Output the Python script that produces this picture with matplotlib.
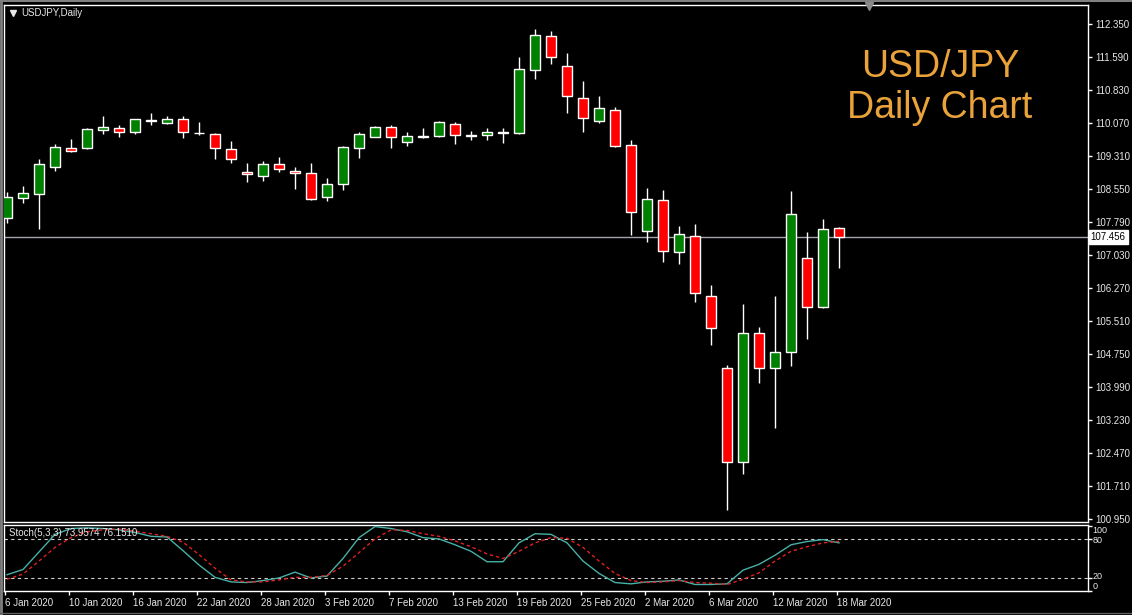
import numpy as np
import matplotlib
matplotlib.use("Agg")
import matplotlib.pyplot as plt
from matplotlib.lines import Line2D
import matplotlib.transforms as mtransforms

# ---- data ----
opens = [107.89, 108.35, 108.44, 109.07, 109.50, 109.51, 109.91, 109.96, 109.88, 110.14,
         110.07, 110.17, 109.85, 109.82, 109.47, 108.95, 108.87, 109.14, 108.97, 108.92,
         108.38, 108.67, 109.50, 109.76, 109.98, 109.65, 109.76, 109.77, 110.06, 109.80,
         109.80, 109.86, 109.86, 111.31, 112.08, 111.39, 110.65, 110.13, 110.37, 109.57,
         107.60, 108.30, 107.10, 107.48, 106.09, 104.43, 102.27, 105.24, 104.43, 104.80,
         106.96, 105.85, 107.66]
highs = [108.50, 108.64, 109.25, 109.59, 109.70, 109.97, 110.23, 110.03, 110.18, 110.30,
         110.23, 110.23, 110.11, 109.86, 109.67, 109.15, 109.21, 109.29, 109.07, 109.15,
         108.81, 109.56, 109.87, 110.01, 110.03, 109.87, 109.97, 110.13, 110.11, 109.90,
         109.96, 109.96, 111.61, 112.24, 112.20, 111.70, 111.05, 110.70, 110.44, 109.69,
         108.58, 108.54, 107.71, 107.75, 106.35, 104.51, 105.91, 105.39, 106.10, 108.52,
         107.58, 107.88, 107.69]
lows = [107.77, 108.23, 107.63, 108.98, 109.42, 109.48, 109.83, 109.76, 109.83, 110.03,
        110.06, 109.74, 109.80, 109.24, 109.15, 108.71, 108.74, 108.96, 108.55, 108.30,
        108.28, 108.54, 109.27, 109.75, 109.51, 109.55, 109.73, 109.75, 109.60, 109.69,
        109.69, 109.63, 109.83, 111.09, 111.44, 110.32, 109.88, 110.09, 109.53, 107.50,
        107.35, 106.89, 106.83, 105.96, 104.97, 101.17, 102.00, 104.09, 103.06, 104.48,
        105.11, 105.81, 106.73]
closes = [108.38, 108.46, 109.13, 109.53, 109.44, 109.94, 109.99, 109.88, 110.17, 110.13,
          110.17, 109.87, 109.84, 109.50, 109.24, 108.90, 109.13, 109.01, 108.92, 108.32,
          108.67, 109.53, 109.83, 109.98, 109.75, 109.77, 109.78, 110.10, 109.81, 109.79,
          109.87, 109.86, 111.32, 112.11, 111.59, 110.71, 110.19, 110.42, 109.56, 108.02,
          108.32, 107.13, 107.52, 106.16, 105.35, 102.27, 105.24, 104.43, 104.80, 107.98,
          105.85, 107.65, 107.456]

stoch_k = [25, 33, 60, 87, 96, 97, 96, 94, 90, 84, 83, 62, 40, 21, 14, 13, 16, 20, 29, 20,
           23, 50, 82, 99, 96, 91, 82, 80, 71, 61, 45, 45, 74, 88, 87, 74, 46, 27, 13, 11,
           14, 15, 17, 10, 10, 11, 32, 41, 55, 71, 76, 79, 73.96]
stoch_d = [18, 26, 46, 67, 82, 91, 94, 95, 92, 88, 84, 75, 56, 35, 17, 14, 14, 17, 21, 21,
           24, 38, 59, 80, 94, 93, 88, 84, 77, 68, 57, 50, 61, 74, 82, 81, 67, 46, 27, 16,
           13, 14, 16, 13, 12, 10, 18, 28, 46, 61, 68, 74, 76.15]

price_ticks = [112.35, 111.59, 110.83, 110.07, 109.31, 108.55, 107.79, 107.03,
               106.27, 105.51, 104.75, 103.99, 103.23, 102.47, 101.71, 100.95]
date_labels = ["6 Jan 2020", "10 Jan 2020", "16 Jan 2020", "22 Jan 2020", "28 Jan 2020",
               "3 Feb 2020", "7 Feb 2020", "13 Feb 2020", "19 Feb 2020", "25 Feb 2020",
               "2 Mar 2020", "6 Mar 2020", "12 Mar 2020", "18 Mar 2020"]
last_price = 107.456

# ---- layout helpers (pixels) ----
W, H = 1132, 615
def fx(px):
    return px / W
def fy(py):
    return 1 - py / H

FONT = "Liberation Sans"
TXT = "#E8E8E8"
plt.rcParams['font.family'] = [FONT, 'DejaVu Sans']

fig = plt.figure(figsize=(W / 100, H / 100), dpi=100, facecolor="black")
ax = fig.add_axes([fx(4), fy(522), fx(1088) - fx(4), fy(4.5) - fy(522)])
sx = fig.add_axes([fx(4), fy(591), fx(1088) - fx(4), fy(525) - fy(591)])

x = np.arange(len(opens))
o = np.array(opens); c = np.array(closes)
bull = c >= o
colors = np.where(bull, "#008000", "#FF0000")
body_bot = np.minimum(o, c)
body_h = np.maximum(np.abs(c - o), 0.004)

# ---- candles ----
ax.vlines(x, lows, highs, color="white", lw=1, zorder=2)
ax.bar(x, body_h, bottom=body_bot, width=0.62, color=colors,
       edgecolor="white", linewidth=1, zorder=3)
ax.axhline(last_price, color="#A4A4B0", lw=1, zorder=1)

for a in (ax, sx):
    a.set_facecolor("black")
    for s in a.spines.values():
        s.set_color("white")
        s.set_linewidth(1)
    a.set_xlim(-0.1875, 67.56)

ax.set_ylim(100.892, 112.808)
ax.set_xticks([])
ax.yaxis.tick_right()
ax.set_yticks(price_ticks)
ax.set_yticklabels([f"{v:.3f}" for v in price_ticks])
ax.tick_params(axis="y", colors="white", labelcolor=TXT, length=3, width=1,
               labelsize=7, pad=2)

# current price box
trans = mtransforms.blended_transform_factory(ax.transAxes, ax.transData)
ax.text(1.0025, last_price, f"{last_price:.3f}", transform=trans, fontsize=7,
        color="black", va="center", ha="left",
        bbox=dict(boxstyle="square,pad=0.2", fc="white", ec="white"))

ax.text(0.0155, 0.983, "USDJPY,Daily", transform=ax.transAxes, fontsize=7,
        color=TXT, va="center", ha="left")
ax.plot([0.0085], [0.983], marker="v", ms=4.5, color=TXT, mec=TXT,
        transform=ax.transAxes, clip_on=False)

ax.text(0.8635, (522 - 77) / 517.5, "USD/JPY", transform=ax.transAxes,
        fontsize=27, color="#E9A33A", ha="center", va="baseline")
ax.text(0.8635, (522 - 118) / 517.5, "Daily Chart", transform=ax.transAxes,
        fontsize=27, color="#E9A33A", ha="center", va="baseline")

# ---- stochastic ----
sx.set_ylim(0.6, 101.4)
sx.plot(x, stoch_k, color="#48B0A6", lw=1, zorder=3)
sx.plot(x, stoch_d, color="#E02020", lw=1, ls=(0, (2.5, 2)), zorder=3)
for lvl in (20, 80):
    sx.axhline(lvl, color="#D0D0D0", lw=0.8, ls=(0, (3, 3)), zorder=1)

sx.yaxis.tick_right()
sx.set_yticks([0, 20, 80, 100])
sx.set_yticklabels([])
sx.tick_params(axis="y", colors="white", length=3, width=1)
strans = mtransforms.blended_transform_factory(sx.transAxes, sx.transData)
for lab, yv in (("100", 93.5), ("80", 78), ("20", 22.5), ("0", 7)):
    sx.text(1.004, yv, lab, transform=strans, fontsize=6.5, color=TXT,
            va="center", ha="left")

sx.set_xticks(np.arange(0, len(opens), 4) - 0.12)
sx.set_xticklabels(date_labels, ha="left")
sx.tick_params(axis="x", colors="white", labelcolor=TXT, length=3, width=1,
               labelsize=7, pad=2)

sx.text(0.0045, 0.88, "Stoch(5,3,3) 73.9574 76.1510", transform=sx.transAxes,
        fontsize=7, color=TXT, va="center", ha="left", zorder=5)

# window frame bits
fig.add_artist(Line2D([fx(1.2), fx(1.2)], [fy(0), fy(615)], color="#808080", lw=2,
                      transform=fig.transFigure))
fig.add_artist(Line2D([0, 1], [fy(0.8), fy(0.8)], color="#808080", lw=1.5,
                      transform=fig.transFigure))
fig.add_artist(Line2D([0, 1], [fy(612.5), fy(612.5)], color="#606060", lw=1,
                      transform=fig.transFigure))
fig.add_artist(Line2D([fx(869)], [fy(6)], marker="v", ms=6, color="#8A8A8A",
                      mec="#8A8A8A", transform=fig.transFigure))

fig.savefig("out.png", dpi=100, facecolor="black")
